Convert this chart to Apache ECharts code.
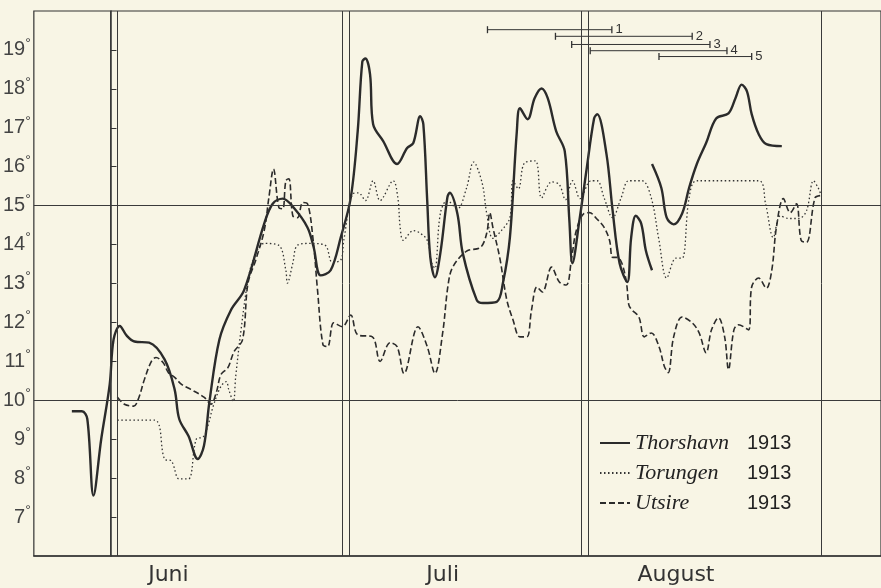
<!DOCTYPE html>
<html>
<head>
<meta charset="utf-8">
<script src="https://cdn.jsdelivr.net/npm/echarts@6/dist/echarts.min.js"></script>
<style>
  html, body { margin: 0; padding: 0; background: #f8f5e5; }
  #chart { width: 881px; height: 588px; }
</style>
</head>
<body>
<div id="chart"></div>
<script>
// x = days counted from 1 June 1913 (0 = 1 June), y = temperature in degrees
var thorshavn = [
  [-5.0, 9.72], [-3.7, 9.72], [-3.0, 9.52], [-2.2, 7.55], [-1.2, 9.0], [-0.1, 10.41],
  [0.4, 11.56], [1.2, 11.91], [2.1, 11.66], [3.1, 11.51], [5.0, 11.48], [7.0, 11.05],
  [8.3, 10.28], [8.9, 9.52], [10.1, 9.08], [11.3, 8.49], [12.1, 8.83], [12.8, 9.95],
  [14.1, 11.56], [15.6, 12.32], [17.3, 12.83], [19.9, 14.54], [21.0, 15.05], [22.3, 15.18],
  [23.7, 14.95], [25.5, 14.44], [26.3, 13.93], [27.2, 13.21], [28.5, 13.34], [29.8, 14.18],
  [31.1, 15.2], [32.0, 16.91], [32.6, 18.7], [33.0, 18.78], [33.6, 18.37], [34.0, 17.09],
  [35.3, 16.66], [37.1, 16.07], [38.4, 16.48], [39.2, 16.61], [40.1, 17.3], [40.5, 17.09],
  [41.0, 15.13], [41.4, 13.67], [42.0, 13.16], [42.7, 13.78], [43.6, 15.2], [43.9, 15.33],
  [44.9, 14.8], [45.6, 13.78], [47.4, 12.58], [48.2, 12.5], [50.0, 12.53], [50.8, 13.01],
  [51.7, 14.18], [52.6, 16.91], [53.0, 17.5], [54.0, 17.22], [54.9, 17.76], [55.8, 18.01],
  [56.6, 17.76], [57.7, 16.91], [58.8, 16.4], [59.4, 14.62], [59.8, 13.52], [60.7, 14.62],
  [61.6, 15.89], [62.6, 17.24], [63.0, 17.35], [64.2, 16.33], [65.0, 14.87], [65.9, 13.52],
  [66.9, 13.04], [67.4, 14.18], [68.0, 14.74], [68.7, 14.54], [69.3, 13.85], [70.1, 13.34],
  [70.1, '-'],
  [70.1, 16.07], [71.3, 15.46], [72.0, 14.69], [72.9, 14.52], [74.0, 14.8], [74.9, 15.46],
  [75.9, 16.07], [77.1, 16.61], [78.4, 17.24], [80.0, 17.37], [80.9, 17.76], [81.7, 18.11],
  [82.4, 17.93], [83.0, 17.35], [83.9, 16.84], [84.9, 16.58], [86.9, 16.53]
];

var torungen = [
  [0.9, 9.49], [5.7, 9.49], [7.0, 8.49], [7.9, 8.44], [8.9, 7.98], [10.1, 7.98],
  [11.1, 9.0], [12.0, 9.06], [12.6, 9.34], [13.3, 9.85], [14.3, 10.36], [15.0, 10.48],
  [15.3, 10.28], [15.9, 9.97], [16.2, 10.59], [16.9, 11.81], [17.8, 13.09], [18.6, 13.67],
  [19.9, 14.03], [21.8, 13.98], [22.7, 13.34], [22.9, 13.01], [23.6, 13.52], [24.2, 13.98],
  [25.9, 14.03], [27.8, 13.98], [28.7, 13.55], [29.8, 13.6], [30.2, 14.11], [31.4, 15.31],
  [32.1, 15.33], [33.0, 15.13], [34.0, 15.64], [34.9, 15.13], [36.6, 15.64], [37.2, 15.2],
  [37.5, 14.44], [37.9, 14.11], [39.2, 14.36], [40.1, 14.29], [41.0, 14.11], [41.6, 13.52],
  [42.0, 13.39], [42.7, 14.8], [43.6, 15.13], [44.9, 14.92], [46.1, 15.46], [47.0, 16.12],
  [48.1, 15.59], [48.7, 14.8], [49.5, 14.16], [50.6, 14.36], [51.7, 14.69], [52.1, 15.64],
  [52.8, 15.43], [53.6, 16.1], [55.0, 16.15], [55.8, 15.2], [57.1, 15.61], [58.1, 15.54],
  [58.9, 15.15], [59.8, 15.64], [60.8, 15.18], [62.2, 15.64], [63.0, 15.64], [63.9, 15.2],
  [65.0, 14.69], [66.1, 15.2], [67.1, 15.64], [68.8, 15.64], [70.0, 15.2], [71.0, 14.11],
  [72.0, 13.14], [73.2, 13.65], [74.0, 13.65], [74.9, 15.2], [75.9, 15.64], [83.9, 15.64],
  [84.8, 15.05], [85.8, 14.18], [86.7, 14.74], [87.8, 14.67], [89.1, 14.67], [90.1, 14.87],
  [91.0, 15.64], [91.6, 15.46], [92.0, 15.26]
];

var utsire = [
  [0.9, 10.08], [1.8, 9.9], [3.0, 9.85], [3.6, 10.03], [4.4, 10.54], [5.3, 11.0],
  [5.9, 11.1], [6.8, 10.97], [7.5, 10.71], [8.3, 10.59], [9.2, 10.41], [10.4, 10.28],
  [12.1, 10.08], [13.0, 9.9], [13.7, 10.2], [14.3, 10.66], [15.2, 10.84], [16.0, 11.25],
  [17.1, 11.56], [17.8, 13.01], [18.8, 13.6], [19.9, 14.36], [20.5, 15.2], [21.1, 15.94],
  [21.8, 14.95], [22.3, 14.92], [22.7, 15.64], [23.1, 15.69], [23.6, 14.74], [24.2, 14.69],
  [24.9, 15.08], [25.5, 15.05], [26.2, 14.18], [26.8, 12.83], [27.5, 11.43], [28.1, 11.38],
  [28.9, 11.99], [30.0, 11.89], [31.1, 12.19], [32.0, 11.68], [33.9, 11.63], [34.9, 11.0],
  [36.2, 11.48], [37.1, 11.38], [38.0, 10.69], [39.8, 11.89], [41.0, 11.38], [42.0, 10.69],
  [43.0, 11.73], [43.7, 12.96], [44.3, 13.42], [46.1, 13.83], [47.9, 13.93], [48.7, 14.29],
  [49.1, 14.82], [49.5, 14.44], [50.4, 13.65], [51.3, 12.58], [52.1, 12.07], [53.0, 11.63],
  [53.9, 11.63], [54.5, 12.32], [55.2, 12.91], [55.9, 12.78], [57.1, 13.42], [58.1, 13.04],
  [59.0, 12.96], [59.7, 13.67], [60.3, 14.36], [61.3, 14.8], [62.0, 14.82], [62.9, 14.67],
  [63.9, 14.44], [64.6, 14.11], [65.0, 13.67], [65.6, 13.67], [66.2, 13.52], [66.8, 13.01],
  [67.1, 12.45], [67.5, 12.32], [68.4, 12.14], [69.1, 11.63], [70.0, 11.73], [71.0, 11.38],
  [71.7, 10.87], [72.2, 10.71], [72.9, 11.63], [74.0, 12.14], [75.3, 11.99], [76.2, 11.73],
  [77.1, 11.22], [77.8, 11.81], [78.7, 12.12], [79.5, 11.63], [80.0, 10.79], [80.7, 11.81],
  [81.3, 11.94], [82.6, 11.81], [83.0, 12.91], [83.9, 13.14], [84.9, 12.88], [85.6, 13.34],
  [86.2, 14.44], [87.1, 15.18], [88.0, 14.82], [88.8, 15.05], [89.4, 14.11], [90.1, 14.06],
  [91.2, 15.2], [92.0, 15.26]
];

// numbered period bars at the top
var rangeNames = ['1', '2', '3', '4', '5'];
var rangeStart = [48.8, 57.6, 59.7, 62.1, 71.0];
var rangeEnd = [64.9, 75.3, 77.6, 79.8, 83.0];
var rangeLevel = [19.52, 19.35, 19.14, 18.98, 18.83];

var monthNames = ['Juni', 'Juli', 'August'];
var monthLabelAt = [7.5, 43.0, 73.2];
var monthLines = [0, 0.85, 30.0, 30.9, 60.95, 61.85, 92.0];
var refLevels = [10, 15];
var yTicks = [7, 8, 9, 10, 11, 12, 13, 14, 15, 16, 17, 18, 19];

var ink = '#2b2b2b';
var myChart = echarts.init(document.getElementById('chart'));

var rangeData = [];
rangeNames.forEach(function (n, i) {
  rangeData.push([rangeStart[i], rangeLevel[i]]);
  rangeData.push({ value: [rangeEnd[i], rangeLevel[i]], label: { show: true, formatter: n } });
  rangeData.push([rangeEnd[i], '-']);
});

var option = {
  backgroundColor: '#f8f5e5',
  animation: false,
  grid: { left: 32, right: -2, top: 11, bottom: 32, show: true, borderColor: '#333', borderWidth: 1.2 },
  xAxis: {
    type: 'value', min: -9.92, max: 99.74,
    axisLine: { show: true, lineStyle: { color: '#333', width: 1.5 } },
    axisTick: { show: false },
    splitLine: { show: false },
    axisLabel: {
      customValues: monthLabelAt,
      formatter: function (v) {
        var i = monthLabelAt.indexOf(v);
        return i >= 0 ? monthNames[i] : '';
      },
      margin: 8, fontSize: 22, color: '#333', fontFamily: 'DejaVu Sans'
    }
  },
  yAxis: {
    type: 'value', min: 6, max: 20, interval: 1,
    axisLine: { show: true, lineStyle: { color: '#333', width: 1.5 } },
    axisTick: { show: true, inside: true, length: 6, lineStyle: { color: '#333' } },
    splitLine: { show: false },
    axisLabel: {
      showMinLabel: false, showMaxLabel: false, margin: 3,
      formatter: function (v) { return yTicks.indexOf(v) >= 0 ? '{n|' + v + '}{d|°}' : ''; },
      rich: {
        n: { fontSize: 20, color: '#444', fontFamily: 'Liberation Sans' },
        d: { fontSize: 14, color: '#444', padding: [0, 0, 12, 0], fontFamily: 'Liberation Sans' }
      }
    }
  },
  legend: {
    data: ['Thorshavn', 'Torungen', 'Utsire'],
    orient: 'vertical', left: 594, top: 427,
    itemWidth: 30, itemHeight: 12, itemGap: 8,
    itemStyle: { opacity: 0 },
    formatter: function (n) { return '{s|' + n + '}{y|1913}'; },
    textStyle: {
      rich: {
        s: { fontSize: 22, fontStyle: 'italic', fontFamily: 'Liberation Serif', color: '#222', width: 112 },
        y: { fontSize: 20, fontFamily: 'Liberation Sans', color: '#222' }
      }
    }
  },
  series: [
    {
      name: 'Thorshavn', type: 'line', data: thorshavn, smooth: 0.35, showSymbol: false, symbol: 'none',
      lineStyle: { color: ink, width: 2.4 }, itemStyle: { color: ink },
      markLine: {
        silent: true, symbol: 'none', label: { show: false },
        lineStyle: { color: '#3a3a3a', width: 1, type: 'solid' },
        data: monthLines.map(function (v) { return { xAxis: v }; })
          .concat(refLevels.map(function (v) { return { yAxis: v }; }))
      }
    },
    {
      name: 'Torungen', type: 'line', data: torungen, smooth: 0.35, showSymbol: false, symbol: 'none',
      lineStyle: { color: '#333', width: 1.3, type: [1.5, 2.5] }, itemStyle: { color: '#333' }
    },
    {
      name: 'Utsire', type: 'line', data: utsire, smooth: 0.35, showSymbol: false, symbol: 'none',
      lineStyle: { color: ink, width: 1.6, type: [6, 3] }, itemStyle: { color: ink }
    },
    {
      name: 'periods', type: 'line', data: rangeData, symbol: 'rect', symbolSize: [1.3, 7],
      lineStyle: { color: '#333', width: 1 }, itemStyle: { color: '#333' },
      label: { show: false, position: 'right', distance: 3, fontSize: 13, color: '#333', fontFamily: 'Liberation Sans' }
    }
  ]
};

myChart.setOption(option);
</script>
</body>
</html>
